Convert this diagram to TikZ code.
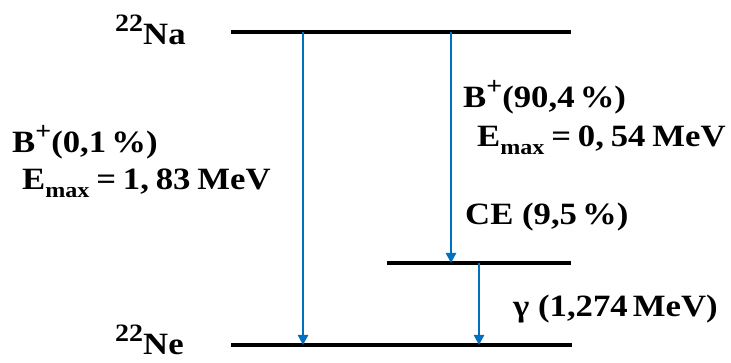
\documentclass[tikz,border=0pt]{standalone}
\usepackage{fontspec}
\setmainfont{Liberation Serif}[FakeStretch=1.12]
\usetikzlibrary{arrows.meta}
\definecolor{arrowblue}{RGB}{0,112,192}
\newcommand{\sub}[1]{\raisebox{-0.24em}{\fontsize{21.5}{22}\selectfont #1}}
\newcommand{\sups}[1]{\raisebox{0.44em}{\fontsize{25}{25}\selectfont #1}}
\newcommand{\gap}{\hspace{0.22em}}
\begin{document}
\begin{tikzpicture}[x=1pt,y=-1pt,
  level/.style={line width=4pt,black},
  decay/.style={line width=2.5pt,arrowblue,-{Triangle[length=10pt,width=10pt]}},
  lbl/.style={anchor=base west,inner sep=0pt,font=\fontsize{31}{35}\selectfont\bfseries}]
\useasboundingbox (0,0) rectangle (731,363);
% levels
\coordinate (naL) at (231,32);  \coordinate (naR) at (571,32);
\coordinate (exL) at (387,263); \coordinate (exR) at (571,263);
\coordinate (neL) at (231,345); \coordinate (neR) at (572,345);
\draw[level] (naL) -- (naR);
\draw[level] (exL) -- (exR);
\draw[level] (neL) -- (neR);
% arrow end points
\coordinate (a1s) at (303,32);  \coordinate (a1e) at (303,345);
\coordinate (a2s) at (451,32);  \coordinate (a2e) at (451,263);
\coordinate (a3s) at (479,263); \coordinate (a3e) at (479,345);
\draw[decay] (a1s) -- (a1e);
\draw[decay] (a2s) -- (a2e);
\draw[decay] (a3s) -- (a3e);
% labels
\node[lbl] (na) at (115,45) {\sups{22}Na};
\node[lbl] (ne) at (115,355) {\sups{22}Ne};
\node[lbl] (b1) at (12,153) {B\sups{+}(0,1\,\%)};
\node[lbl] (e1) at (22,190) {E\sub{max}\gap=\gap1,\gap83\gap MeV};
\node[lbl] (b2) at (463,108) {B\sups{+}(90,4\,\%)};
\node[lbl] (e2) at (477,147) {E\sub{max}\gap=\gap0,\gap54\gap MeV};
\node[lbl] (ce) at (465,225) {CE (9,5\,\%)};
\node[lbl] (ga) at (513,317) {γ (1,274\,MeV)};
\end{tikzpicture}
\end{document}
